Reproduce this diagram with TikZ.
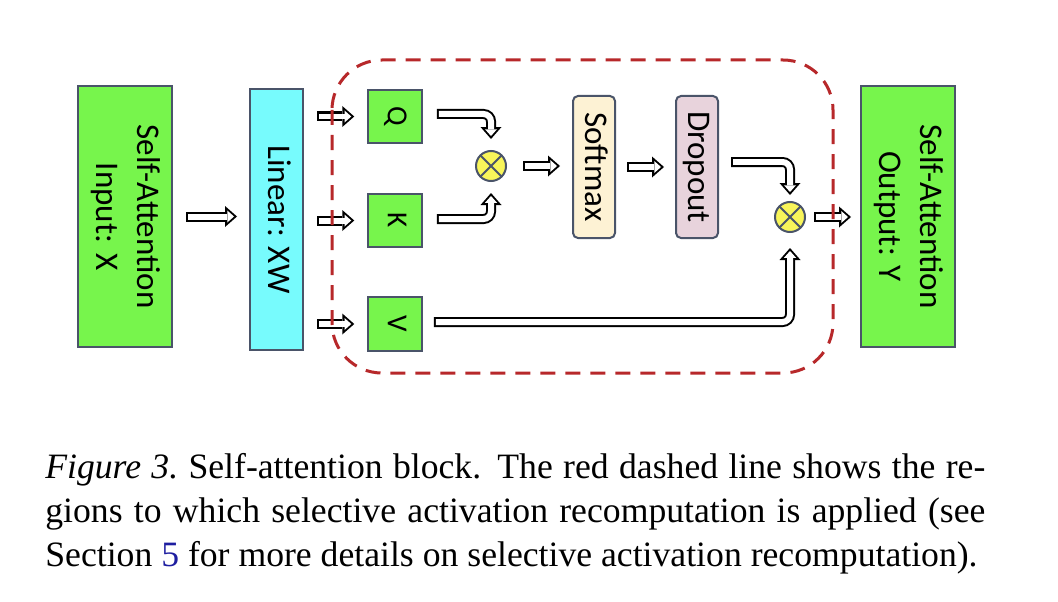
\documentclass[tikz,border=0pt]{standalone}
\usepackage{fontspec}
\setmainfont{Liberation Serif}
\newfontfamily\carlito{Carlito}
\usetikzlibrary{arrows.meta,calc}

\definecolor{boxgreen}{RGB}{119,245,76}
\definecolor{boxcyan}{RGB}{119,251,253}
\definecolor{smcream}{RGB}{253,242,212}
\definecolor{dopink}{RGB}{232,211,220}
\definecolor{mulyel}{RGB}{248,245,90}
\definecolor{bord}{RGB}{74,84,105}
\definecolor{recred}{RGB}{183,40,42}
\definecolor{linkblue}{RGB}{30,30,160}

\newcommand{\vtxt}[1]{\rotatebox{-90}{\begin{tabular}{@{}c@{}}#1\end{tabular}}}

\begin{document}
\begin{tikzpicture}[
    blok/.style={draw=bord,line width=0.04cm,inner sep=0pt,
                 font=\carlito\fontsize{18.8}{23}\selectfont},
    io/.style={blok,fill=boxgreen,minimum width=1.88cm,minimum height=5.22cm},
    lin/.style={blok,fill=boxcyan,minimum width=1.06cm,minimum height=5.22cm},
    qkv/.style={blok,fill=boxgreen,minimum size=1.07cm,
                font=\carlito\fontsize{16.5}{20}\selectfont},
    op/.style={blok,rounded corners=0.1cm,minimum width=0.84cm,minimum height=2.84cm},
    mul/.style={circle,draw=bord,line width=0.04cm,fill=mulyel,minimum size=0.60cm,inner sep=0pt,
      path picture={\draw[bord,line width=0.04cm]
        (path picture bounding box.north west) -- (path picture bounding box.south east)
        (path picture bounding box.south west) -- (path picture bounding box.north east);}},
    pipe/.style={draw=black,line width=0.2cm,rounded corners=0.15cm,
      -{Triangle[length=0.24cm,width=0.42cm,line width=0pt]},
      postaction={draw=white,line width=0.12cm,shorten <=0.04cm,shorten >=0.06cm,
        -{Triangle[length=0.135cm,width=0.24cm,line width=0pt]}}},
    recomp/.style={draw=recred,line width=0.06cm,rounded corners=1.0cm,
      dash pattern=on 0.30cm off 0.20cm},
    capt/.style={text width=18.8cm,align=justify,inner sep=0pt,
                 font=\fontsize{20.3}{25.3}\selectfont}]
  \useasboundingbox (0,0) rectangle (21.16,-12.04);

  % blocchi
  \node[io]  (inp)  at (2.50,-4.33)  {\vtxt{Self-Attention\\Input: X}};
  \node[lin] (lin)  at (5.53,-4.39)  {\vtxt{Linear: XW}};
  \node[qkv] (q)    at (7.90,-2.33)  {\vtxt{Q}};
  \node[qkv] (k)    at (7.90,-4.41)  {\vtxt{K}};
  \node[qkv] (v)    at (7.90,-6.48)  {\vtxt{V}};
  \node[mul] (m1)   at (9.82,-3.32)  {};
  \node[op,fill=smcream] (sm)   at (11.88,-3.34) {\vtxt{Softmax}};
  \node[op,fill=dopink]  (drop) at (13.94,-3.34) {\vtxt{Dropout}};
  \node[mul] (m2)   at (15.80,-4.34) {};
  \node[io]  (out)  at (18.16,-4.33) {\vtxt{Self-Attention\\Output: Y}};

  % frecce
  \draw[pipe] ($(inp.east)+(0.26,0)$) -- ($(lin.west |- inp.east)+(-0.24,0)$);
  \draw[pipe] ($(lin.east |- q.west)+(0.26,0)$) -- ($(q.west)+(-0.26,0)$);
  \draw[pipe] ($(lin.east |- k.west)+(0.26,0)$) -- ($(k.west)+(-0.26,0)$);
  \draw[pipe] ($(lin.east |- v.west)+(0.26,0)$) -- ($(v.west)+(-0.26,0)$);
  \draw[pipe] ($(q.east)+(0.28,0.05)$) -| ($(m1.north)+(0,0.22)$);
  \draw[pipe] ($(k.east)+(0.28,0.03)$) -| ($(m1.south)+(0,-0.22)$);
  \draw[pipe] ($(m1.east)+(0.32,0)$) -- ($(sm.west |- m1.east)+(-0.24,0)$);
  \draw[pipe] ($(sm.east)+(0.22,0)$) -- ($(drop.west)+(-0.22,0)$);
  \draw[pipe] ($(drop.east)+(0.24,0.10)$) -| ($(m2.north)+(0,0.12)$);
  \draw[pipe] ($(v.east)+(0.22,0.04)$) -| ($(m2.south)+(0,-0.30)$);
  \draw[pipe] ($(m2.east)+(0.16,0)$) -- ($(out.west |- m2.east)+(-0.18,0)$);

  % regione ricalcolata
  \draw[recomp] (6.64,-1.20) rectangle (16.66,-7.46);

  % didascalia
  \node[capt,anchor=base west] (cap) at (0.90,-9.56)
    {{\itshape Figure 3.}\ Self-attention block. The red dashed line shows the re-\linebreak
     gions to which selective activation recomputation is applied (see\linebreak
     Section {\color{linkblue}5} for more details on selective activation recomputation).};
\end{tikzpicture}
\end{document}
